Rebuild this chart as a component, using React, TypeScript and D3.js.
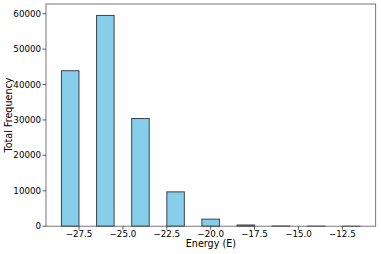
import React from "react";
import * as d3 from "d3";

const binStarts = [-28.5, -26.5, -24.5, -22.5, -20.5, -18.5, -16.5, -14.5, -12.5];
const binWidth = 1;
const frequencies = [43900, 59500, 30400, 9700, 2000, 350, 60, 25, 10];
const xTicks = [-27.5, -25.0, -22.5, -20.0, -17.5, -15.0, -12.5];
const yTicks = [0, 10000, 20000, 30000, 40000, 50000, 60000];

const W = 381;
const H = 254;
const M = { left: 46, right: 5.3, top: 4, bottom: 27.8 };

export default function App() {
  const x = d3.scaleLinear().domain([-29.38, -10.6]).range([M.left, W - M.right]);
  const y = d3.scaleLinear().domain([0, 62730]).range([H - M.bottom, M.top]);
  const font = "DejaVu Sans, sans-serif";
  const fmtX = (v: number) => (v < 0 ? "\u2212" : "") + Math.abs(v).toFixed(1);
  const y0 = y(0);
  return (
    <svg width={W} height={H} style={{ position: "absolute", left: 0, top: 0 }}>
      <rect x={0} y={0} width={W} height={H} fill="#fff" />
      {binStarts.map((s, i) => {
        const x0 = x(s);
        const x1 = x(s + binWidth);
        const yt = y(frequencies[i]);
        return (
          <rect
            key={i}
            x={x0}
            y={yt}
            width={x1 - x0}
            height={Math.max(0, y0 - yt)}
            fill="#87CEEB"
            stroke="#000"
            strokeOpacity={0.7}
            strokeWidth={1}
          />
        );
      })}
      <rect
        x={M.left}
        y={M.top}
        width={W - M.left - M.right}
        height={H - M.top - M.bottom}
        fill="none"
        stroke="#555"
        strokeWidth={0.8}
      />
      {xTicks.map((t) => (
        <g key={t}>
          <line x1={x(t)} x2={x(t)} y1={y0} y2={y0 + 3.5} stroke="#333" strokeWidth={0.8} />
          <text x={x(t)} y={237} textAnchor="middle" fontFamily={font} fontSize={8.7} fill="#000">
            {fmtX(t)}
          </text>
        </g>
      ))}
      {yTicks.map((t) => (
        <g key={t}>
          <line x1={M.left - 3.5} x2={M.left} y1={y(t)} y2={y(t)} stroke="#333" strokeWidth={0.8} />
          <text
            x={M.left - 5}
            y={y(t)}
            dy="0.35em"
            textAnchor="end"
            fontFamily={font}
            fontSize={8.7}
            fill="#000"
          >
            {t}
          </text>
        </g>
      ))}
      <text x={(M.left + W - M.right) / 2} y={247} textAnchor="middle" fontFamily={font} fontSize={9.6} fill="#000">
        Energy (E)
      </text>
      <text
        transform={`translate(12.3, ${(M.top + H - M.bottom) / 2}) rotate(-90)`}
        textAnchor="middle"
        fontFamily={font}
        fontSize={9.6}
        fill="#000"
      >
        Total Frequency
      </text>
    </svg>
  );
}
